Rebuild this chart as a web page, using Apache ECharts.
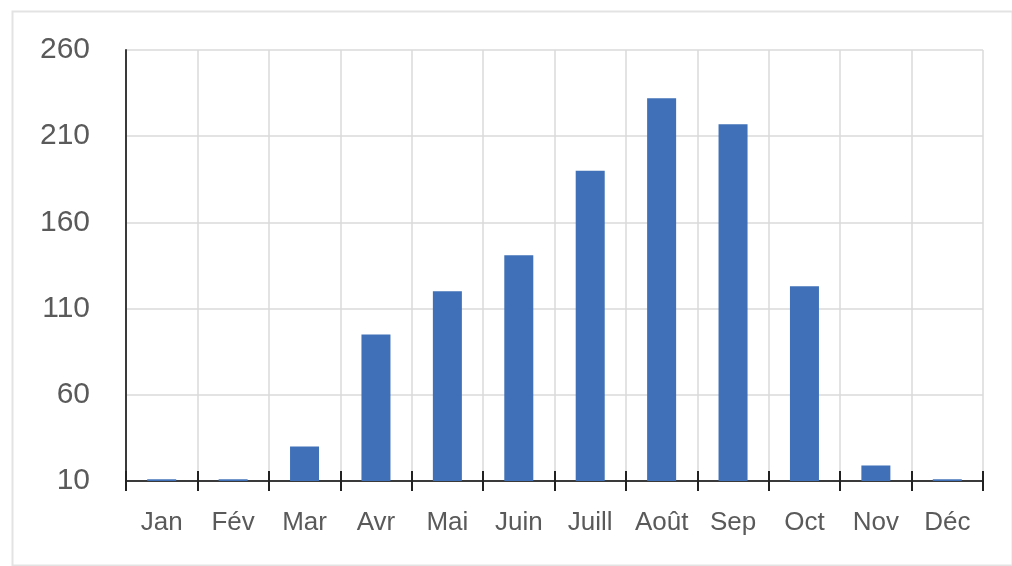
<!DOCTYPE html>
<html>
<head>
<meta charset="utf-8">
<script src="https://cdn.jsdelivr.net/npm/echarts@6/dist/echarts.min.js"></script>
<style>
html,body{margin:0;padding:0;background:#fff;}
#chart{width:1012px;height:566px;}
</style>
</head>
<body>
<div id="chart"></div>
<script>
const categories = ['Jan','Fév','Mar','Avr','Mai','Juin','Juill','Août','Sep','Oct','Nov','Déc'];
const values = [11, 11, 30, 95, 120, 141, 190, 232, 217, 123, 19, 11];
const yTicks = [10, 60, 110, 160, 210, 260];

const chart = echarts.init(document.getElementById('chart'), null, {renderer: 'canvas'});
const textColor = '#5a5a5a';
chart.setOption({
  animation: false,
  backgroundColor: '#fff',
  graphic: [{
    type: 'rect', left: 10, top: 9, silent: true,
    shape: {width: 1000, height: 554},
    style: {fill: 'none', stroke: '#e3e3e3', lineWidth: 2}
  }],
  grid: {left: 126, right: 29, top: 50, bottom: 85, containLabel: false},
  xAxis: [{
    type: 'category',
    data: categories,
    boundaryGap: true,
    axisLine: {show: true, lineStyle: {color: '#3a3a3a', width: 2}},
    axisTick: {show: true, interval: 0, length: 10, lineStyle: {color: '#222', width: 2}},
    axisLabel: {color: textColor, fontSize: 26, fontFamily: 'Liberation Sans', margin: 29, interval: 0},
    splitLine: {show: true, interval: 0, lineStyle: {color: '#dadada', width: 1.5}}
  }, {
    type: 'category',
    data: categories,
    position: 'bottom',
    boundaryGap: true,
    axisLine: {show: false},
    axisTick: {show: true, interval: 0, inside: true, length: 10, lineStyle: {color: '#222', width: 2}},
    axisLabel: {show: false},
    splitLine: {show: false}
  }],
  yAxis: {
    type: 'value',
    min: 10,
    max: 260,
    axisLine: {show: true, lineStyle: {color: '#3a3a3a', width: 2}},
    axisTick: {show: false, customValues: yTicks},
    axisLabel: {color: textColor, fontSize: 30, fontFamily: 'Liberation Sans', margin: 36, customValues: yTicks},
    splitLine: {show: true, lineStyle: {color: '#dadada', width: 1.5}}
  },
  series: [{
    type: 'bar',
    data: values,
    barWidth: 29,
    clip: true,
    itemStyle: {color: '#3f70b8'}
  }]
});
</script>
</body>
</html>
